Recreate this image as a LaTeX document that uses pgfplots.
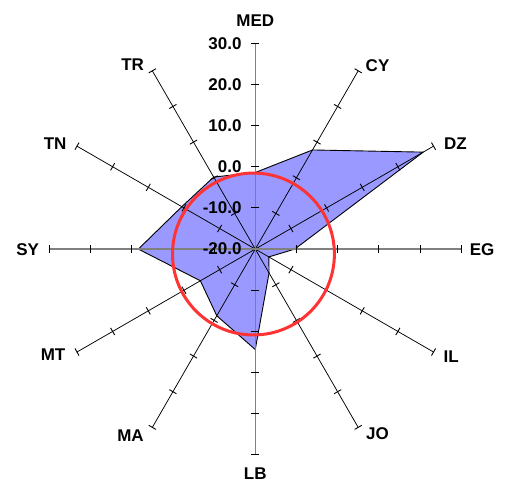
\documentclass[border=0pt]{standalone}
\usepackage{fontspec}
\setmainfont{Liberation Sans}
\usepackage{pgfplots}
\pgfplotsset{compat=1.18}
\usepackage{pgfplotstable}
\definecolor{areafill}{RGB}{153,153,255}
\definecolor{circred}{RGB}{255,51,51}
\definecolor{spokegray}{RGB}{128,128,128}
\newcommand\lbl{\fontsize{17bp}{20bp}\selectfont\bfseries}
\pgfplotstableread{
cat angle value
MED 90 -1.4
CY 60 7.8
DZ 30 27.1
EG 0 -10.4
IL -30 -16.2
JO -60 -13.3
LB -90 4.4
MA -120 -1.3
MT -150 -4.6
SY 180 8.4
TN 150 0.6
TR 120 0.2
MED 90 -1.4
}\radardata
\begin{document}
\begin{tikzpicture}
\begin{axis}[x=4.12bp, y=4.12bp,
  xmin=-62, xmax=60.9, ymin=-57, ymax=60.5,
  axis line style={draw=none}, ticks=none, clip=false]
\addplot[fill=areafill, draw=black, line width=0.9bp]
  table[x expr={(\thisrow{value}+20)*cos(\thisrow{angle})},
        y expr={(\thisrow{value}+20)*sin(\thisrow{angle})}] {\radardata};
\pgfplotsinvokeforeach{30,60,120,150,210,240,300,330}{
  \draw[black, line width=0.75bp] (0,0) -- ({50*cos(#1)},{50*sin(#1)});
}
\pgfplotsinvokeforeach{0,90,180,270}{
  \draw[spokegray, line width=1.5bp] (0,0) -- ({50*cos(#1)},{50*sin(#1)});
}
\pgfplotsinvokeforeach{0,30,60,90,120,150,180,210,240,270,300,330}{
  \draw[black, line width=0.9bp]
    ({10*cos(#1)-cos(#1+90)},{10*sin(#1)-sin(#1+90)}) -- ({10*cos(#1)+cos(#1+90)},{10*sin(#1)+sin(#1+90)})
    ({20*cos(#1)-cos(#1+90)},{20*sin(#1)-sin(#1+90)}) -- ({20*cos(#1)+cos(#1+90)},{20*sin(#1)+sin(#1+90)})
    ({30*cos(#1)-cos(#1+90)},{30*sin(#1)-sin(#1+90)}) -- ({30*cos(#1)+cos(#1+90)},{30*sin(#1)+sin(#1+90)})
    ({40*cos(#1)-cos(#1+90)},{40*sin(#1)-sin(#1+90)}) -- ({40*cos(#1)+cos(#1+90)},{40*sin(#1)+sin(#1+90)})
    ({50*cos(#1)-cos(#1+90)},{50*sin(#1)-sin(#1+90)}) -- ({50*cos(#1)+cos(#1+90)},{50*sin(#1)+sin(#1+90)});
}
\draw[circred, line width=3bp] (-0.44,-1.2) circle[radius=81bp];
% scale labels
\node[anchor=east, font=\lbl, inner sep=0pt] at (-3.3,50) {30.0};
\node[anchor=east, font=\lbl, inner sep=0pt] at (-3.3,40) {20.0};
\node[anchor=east, font=\lbl, inner sep=0pt] at (-3.3,30) {10.0};
\node[anchor=east, font=\lbl, inner sep=0pt] at (-3.3,20) {0.0};
\node[anchor=east, font=\lbl, inner sep=0pt] at (-3.3,10) {-10.0};
\node[anchor=east, font=\lbl, inner sep=0pt] at (-3.3,0) {-20.0};
% category labels
\node[font=\lbl, inner sep=0pt] at (0,55.5) {MED};
\node[font=\lbl, inner sep=0pt] at (29.7,44.6) {CY};
\node[font=\lbl, inner sep=0pt] at (48.6,25.7) {DZ};
\node[font=\lbl, inner sep=0pt] at (55.1,-0.2) {EG};
\node[font=\lbl, inner sep=0pt] at (47.6,-26.1) {IL};
\node[font=\lbl, inner sep=0pt] at (29.7,-44.9) {JO};
\node[font=\lbl, inner sep=0pt] at (0,-54.6) {LB};
\node[font=\lbl, inner sep=0pt] at (-30.3,-45.3) {MA};
\node[font=\lbl, inner sep=0pt] at (-49.1,-25.6) {MT};
\node[font=\lbl, inner sep=0pt] at (-55.3,-0.2) {SY};
\node[font=\lbl, inner sep=0pt] at (-48.6,25.7) {TN};
\node[font=\lbl, inner sep=0pt] at (-29.8,44.7) {TR};
\end{axis}
\end{tikzpicture}
\end{document}
